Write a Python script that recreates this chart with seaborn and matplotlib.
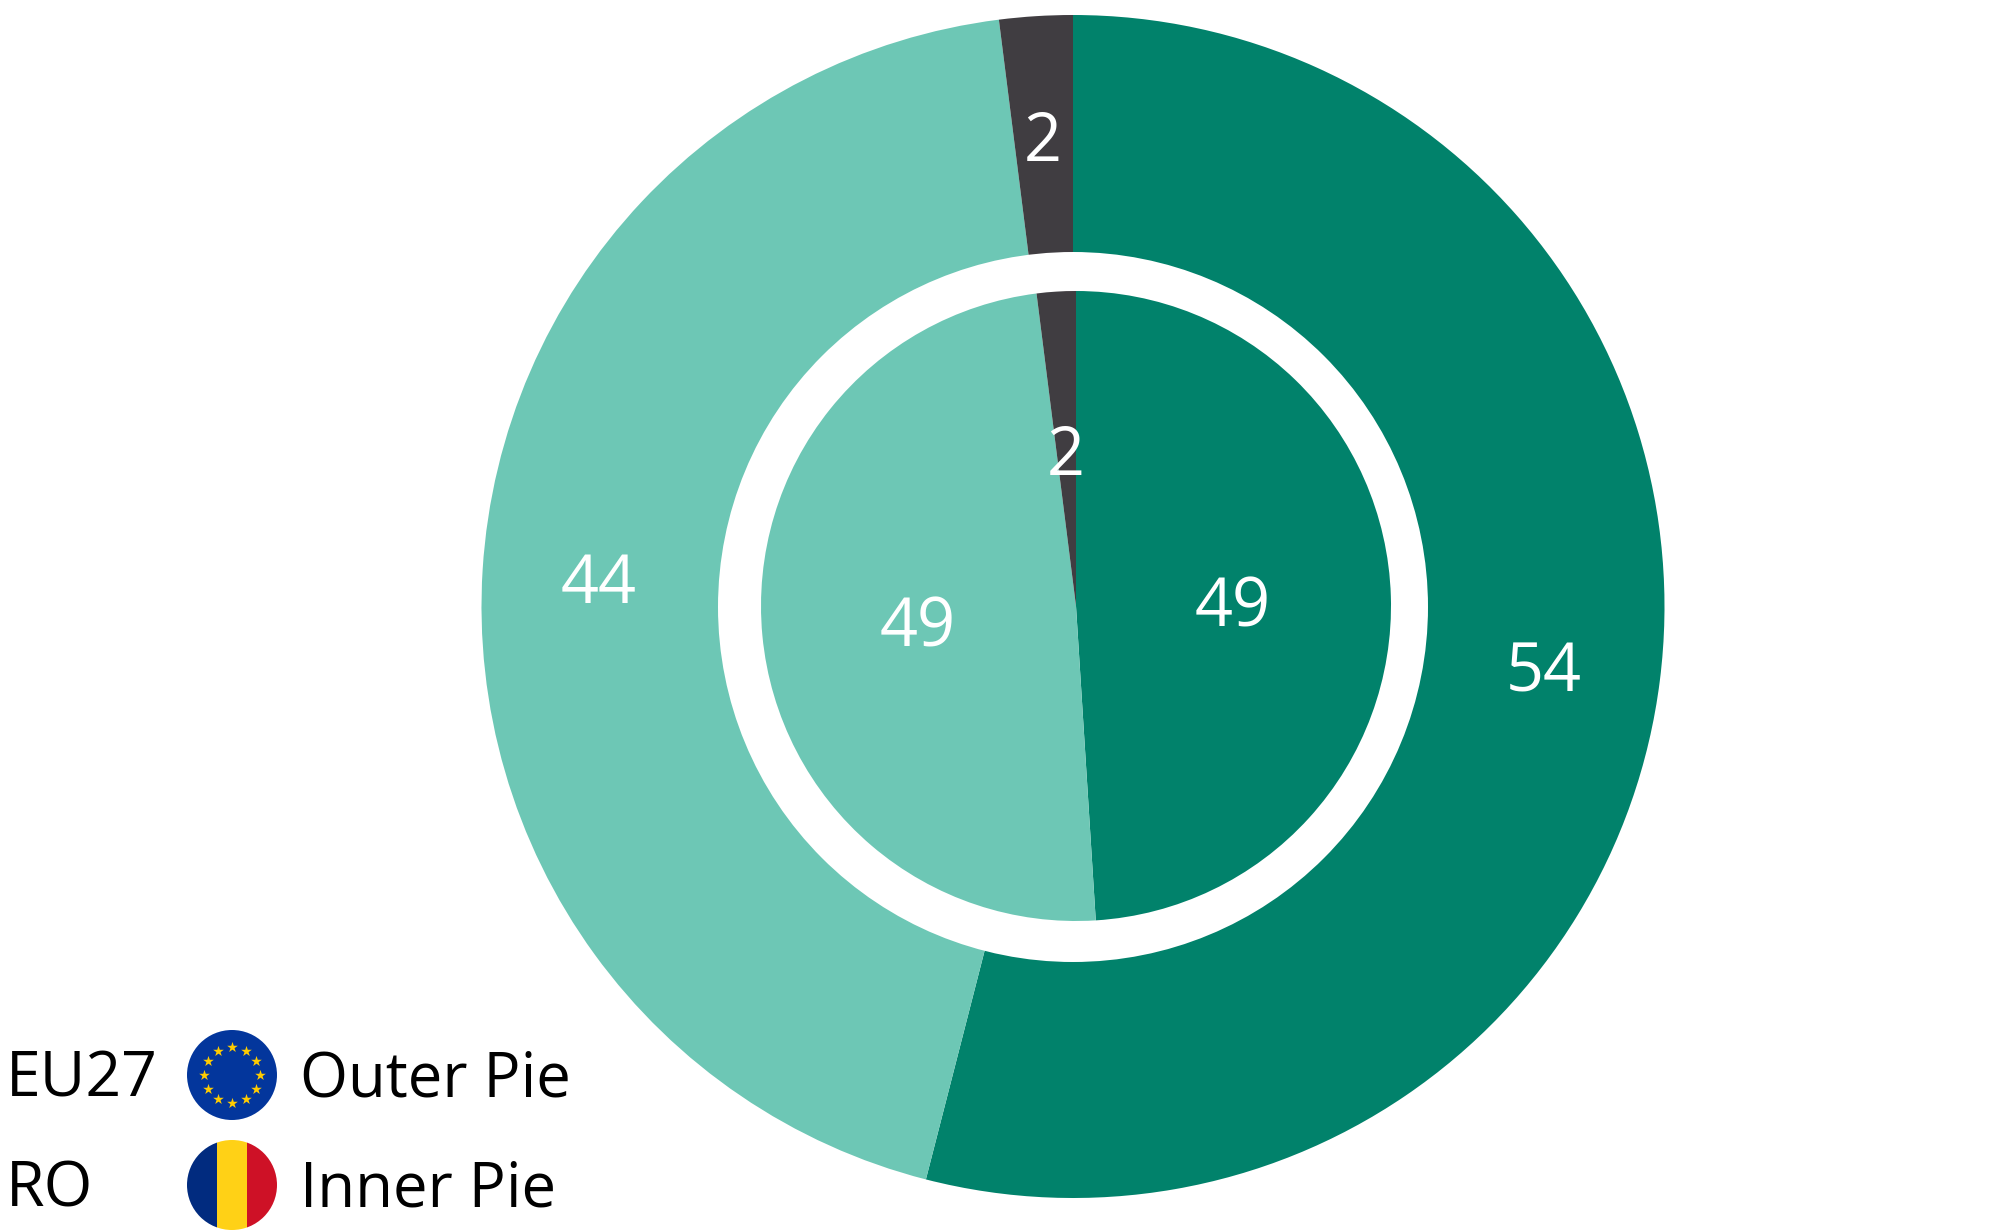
import numpy as np
import matplotlib
matplotlib.use("Agg")
import matplotlib.pyplot as plt
from matplotlib.patches import Circle, Rectangle
import seaborn as sns

# values
slice_names = ["first", "second", "third"]
outer_values = [54, 44, 2]
inner_values = [49, 49, 2]
legend_codes = ["EU27", "RO"]
legend_names = ["Outer Pie", "Inner Pie"]

palette = sns.color_palette(["#01826B", "#6DC7B5", "#403D41"])

sns.set_theme(style="white")
plt.rcParams["font.family"] = ["Open Sans", "DejaVu Sans"]

W, H = 2002, 1231
fig = plt.figure(figsize=(W / 100, H / 100), dpi=100)
ax = fig.add_axes([0, 0, 1, 1])

# work in picture pixels, y flipped at the call
def py(y):
    return H - y

ax.pie(outer_values, colors=palette, startangle=90, counterclock=False,
       center=(1073, py(606.5)), radius=591.5, wedgeprops={"linewidth": 0})
ax.add_patch(Circle((1073, py(607)), 355, fc="white", ec="none", zorder=3))
ax.pie(inner_values, colors=palette, startangle=90, counterclock=False,
       center=(1076, py(606)), radius=315,
       wedgeprops={"linewidth": 0, "zorder": 4})

ax.set_xlim(0, W)
ax.set_ylim(0, H)
ax.set_aspect("equal")
ax.axis("off")

# slice labels, placed by hand like in the original
outer_pos = [(1544, 666), (599, 577), (1043, 135)]
inner_pos = [(1233, 601), (918, 621), (1066, 449)]
for vals, pos in [(outer_values, outer_pos), (inner_values, inner_pos)]:
    for v, (x, y) in zip(vals, pos):
        ax.text(x, py(y), str(v), color="white", fontsize=48,
                ha="center", va="center_baseline", zorder=6)

# legend text
for code, name, y in zip(legend_codes, legend_names, [1073, 1183]):
    ax.text(6, py(y), code, color="black", fontsize=45,
            ha="left", va="center_baseline", zorder=6)
    ax.text(300, py(y), name, color="black", fontsize=44.5,
            ha="left", va="center_baseline", zorder=6)

# EU flag
fx, r = 232, 45
ax.add_patch(Circle((fx, py(1075)), r, fc="#03369C", ec="none", zorder=5))
angles = np.deg2rad(np.arange(0, 360, 30))
ax.scatter(fx + 28 * np.cos(angles), py(1075) + 28 * np.sin(angles), marker="*",
           s=65, color="#FFCC00", linewidths=0, zorder=6)

# RO flag, stripes clipped to a circle
ro_clip = Circle((fx, py(1185)), r, transform=ax.transData)
for x0, x1, c in [(fx - r, fx - 15, "#012B7F"), (fx - 15, fx + 15, "#FFD116"),
                  (fx + 15, fx + r, "#CE1126")]:
    stripe = Rectangle((x0, py(1185) - r), x1 - x0, 2 * r, fc=c, ec="none", zorder=5)
    ax.add_patch(stripe)
    stripe.set_clip_path(ro_clip)

fig.savefig("out.png", dpi=100, facecolor="white")
